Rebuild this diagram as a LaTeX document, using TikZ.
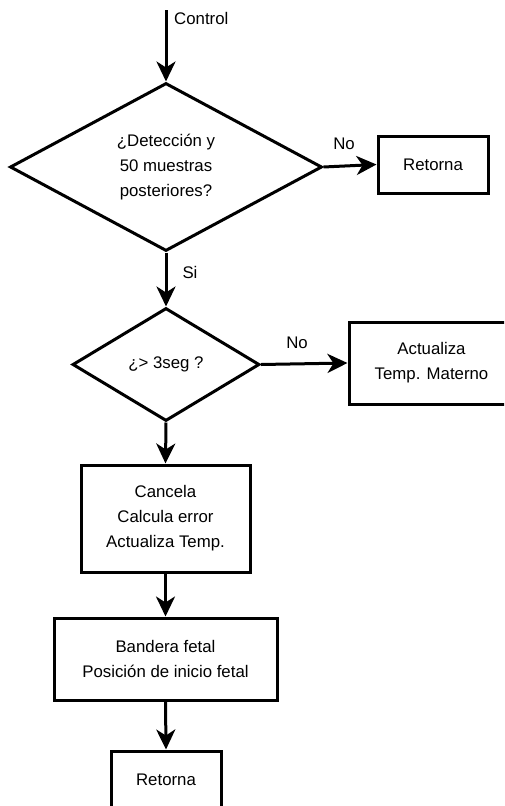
\documentclass[tikz,border=0pt]{standalone}
\usepackage{fontspec}
\setmainfont{Liberation Sans}
\usetikzlibrary{shapes.geometric,arrows.meta}
\begin{document}
\begin{tikzpicture}[x=1pt,y=-1pt,
  every node/.style={font=\fontsize{16.8}{25}\selectfont, align=center},
  decision/.style={diamond, draw, line width=3pt, inner sep=0pt},
  procbox/.style={rectangle, draw, line width=3pt, inner sep=0pt},
  flow/.style={line width=3pt, -{Stealth[length=20pt,width=19pt,inset=6pt]}},
  lbl/.style={inner sep=0pt}]
  \useasboundingbox (0,0) rectangle (504,806);
  \clip (0,0) rectangle (504,806);
  \fill[white] (0,0) rectangle (504,806);

  % entry point
  \coordinate (start) at (166,10);

  % first decision and its "No" branch
  \node[decision, aspect=1.857, minimum width=312pt, minimum height=168pt] (d1) at (166,167)
    {¿Detección y\\50 muestras\\posteriores?};
  \node[procbox, minimum width=110pt, minimum height=57pt] (r1) at (433,164.5) {Retorna};

  % second decision and its "No" branch
  \node[decision, aspect=1.65, minimum width=187pt, minimum height=113pt] (d2) at (166,364.5)
    {¿> 3seg ?};
  \node[procbox, minimum width=165pt, minimum height=82pt] (r2) at (431.5,363)
    {Actualiza\\Temp. Materno};

  % main sequence
  \node[procbox, minimum width=169pt, minimum height=107pt] (b3) at (165.5,518.5)
    {Cancela\\Calcula error\\Actualiza Temp.};
  \node[procbox, minimum width=223pt, minimum height=82pt] (b4) at (165.5,659)
    {Bandera fetal\\Posición de inicio fetal};
  \node[procbox, minimum width=110pt, minimum height=57pt] (b5) at (166,779.5) {Retorna};

  % connectors
  \draw[flow] (start) -- (d1.north);
  \draw[flow] (d1.east) -- (r1.west);
  \draw[flow] (d1.south) -- (d2.north);
  \draw[flow] (d2.east) -- (r2.west);
  \draw[flow] (d2.south) -- (b3.north);
  \draw[flow] (b3.south) -- (b4.north);
  \draw[flow] (b4.south) -- (b5.north);

  % labels
  \node[lbl, anchor=west] (lc) at (174,18) {Control};
  \node[lbl] (lno1) at (344,144) {No};
  \node[lbl] (lsi) at (190,272) {Si};
  \node[lbl] (lno2) at (297,343) {No};
\end{tikzpicture}
\end{document}
